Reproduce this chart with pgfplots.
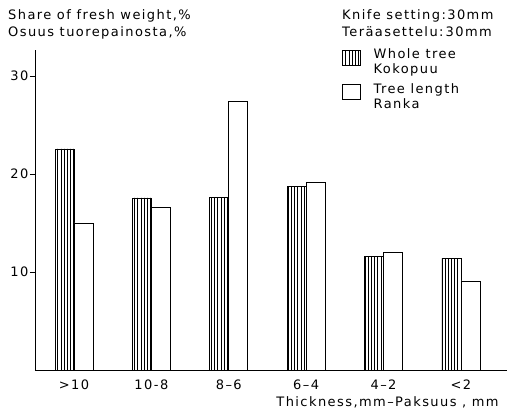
\documentclass[border=0pt]{standalone}
\usepackage{fontspec}
\setmainfont{DejaVu Sans}[LetterSpace=11]
\usepackage{pgfplots}
\pgfplotsset{compat=1.18}
\usetikzlibrary{patterns.meta}

\newcommand{\lab}{\fontsize{13}{15}\selectfont}

\begin{document}
\begin{tikzpicture}[font=\lab]
\begin{axis}[
    at={(35pt,-370pt)}, anchor=south west,
    scale only axis,
    width=472pt, height=320pt,
    xmin=-0.504, xmax=5.595,
    ymin=0, ymax=32.65,
    ybar=0pt, bar width=19pt,
    axis lines=left,
    axis line style={-, line width=0.8pt},
    xtick=data,
    xticklabels={>10, 10-8, 8--6, 6--4, 4--2, <2},
    x tick style={draw=none},
    ytick={10,20,30},
    tick align=outside,
    y tick style={line width=0.8pt, black},
    major tick length=5pt,
    /pgf/number format/assume math mode=true,
    tick label style={font=\lab},
    yticklabel style={xshift=2pt},
    xticklabel style={yshift=-1pt},
    xlabel={Thickness,mm--Paksuus , mm},
    xlabel style={anchor=base west, at={(axis description cs:0.504,-0.1125)}},
    legend style={draw=none, fill=none, at={(axis description cs:0.65,1.01)},
        anchor=north west, cells={align=left}, row sep=4pt,
        inner sep=0pt, font=\lab,
        /tikz/every odd column/.append style={column sep=11pt}},
    legend cell align=left,
]
\addplot[draw=black, line width=0.6pt,
    pattern={Lines[angle=90, distance=3.2pt, line width=0.6pt]},
    legend image code/.code={\draw[line width=0.6pt, pattern={Lines[angle=90, distance=3.2pt, line width=0.6pt]}] (0pt,-3pt) rectangle (18pt,12pt);}]
    coordinates {(0,22.55) (1,17.55) (2,17.6) (3,18.7) (4,11.6) (5,11.4)};
\addplot[draw=black, line width=0.6pt, fill=white,
    legend image code/.code={\draw[line width=0.6pt, fill=white] (0pt,-3pt) rectangle (18pt,12pt);}]
    coordinates {(0,15.0) (1,16.6) (2,27.4) (3,19.2) (4,12.0) (5,9.1)};
\legend{{Whole tree\\Kokopuu},{Tree length\\Ranka}}
\end{axis}
\node[anchor=base west, inner sep=0pt] at (8pt,-20pt) {Share of fresh weight,\%};
\node[anchor=base west, inner sep=0pt] at (8pt,-37pt) {Osuus tuorepainosta,\%};
\node[anchor=base west, inner sep=0pt] at (342pt,-20pt) {Knife setting:30mm};
\node[anchor=base west, inner sep=0pt] at (342pt,-37pt) {Teräasettelu:\,30mm};
\pgfresetboundingbox
\useasboundingbox (0pt,0pt) rectangle (514pt,-411pt);
\end{tikzpicture}
\end{document}
